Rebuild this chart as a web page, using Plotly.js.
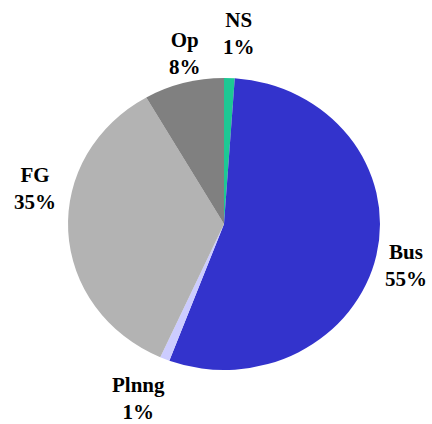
<!DOCTYPE html>
<html>
<head>
<meta charset="utf-8">
<script src="https://cdn.plot.ly/plotly-3.0.1.min.js"></script>
<style>
  html, body { margin: 0; padding: 0; background: #fff; }
  #chart { width: 432px; height: 424px; }
</style>
</head>
<body>
<div id="chart"></div>
<script>
// ---- data ----
var categories = ["NS", "Bus", "Plnng", "FG", "Op"];
var values = [1.1, 54.6, 1.0, 35.0, 8.3];
var colors = ["#1dc894", "#3333cc", "#ccccff", "#b3b3b3", "#808080"];

// label block centres (px) for each category, in the same order
var labelPosX = [239, 406, 138, 35, 185];
var labelPosY = [33, 265, 398, 188, 53];

var W = 432, H = 424;
var cx = 224, cy = 224, ry = 146, rx = 156;

var total = values.reduce(function (a, b) { return a + b; }, 0);

var annotations = categories.map(function (c, i) {
  var pct = Math.round(values[i] / total * 100);
  return {
    text: "<b>" + c + "<br>" + pct + "%</b>",
    x: labelPosX[i] / W,
    y: 1 - labelPosY[i] / H,
    xref: "paper", yref: "paper",
    xanchor: "center", yanchor: "middle",
    showarrow: false,
    align: "center",
    font: { family: "'Liberation Serif', 'Times New Roman', Times, serif", size: 21, color: "#000" }
  };
});

var trace = {
  type: "pie",
  labels: categories,
  values: values,
  sort: false,
  direction: "clockwise",
  rotation: 0,
  textinfo: "none",
  hoverinfo: "label+percent",
  marker: { colors: colors, line: { width: 0 } },
  domain: {
    x: [(cx - ry) / W, (cx + ry) / W],
    y: [(H - cy - ry) / H, (H - cy + ry) / H]
  },
  showlegend: false
};

var layout = {
  width: W, height: H,
  margin: { l: 0, r: 0, t: 0, b: 0 },
  paper_bgcolor: "#ffffff",
  plot_bgcolor: "#ffffff",
  showlegend: false,
  annotations: annotations
};

Plotly.newPlot("chart", [trace], layout, { displayModeBar: false, staticPlot: true }).then(function (gd) {
  // the reference pie is slightly wider than tall: stretch the slices horizontally
  var layer = gd.querySelector("g.pielayer");
  if (layer) {
    var k = rx / ry;
    layer.setAttribute("transform",
      "translate(" + cx + ",0) scale(" + k + ",1) translate(" + (-cx) + ",0)");
  }
});
</script>
</body>
</html>
